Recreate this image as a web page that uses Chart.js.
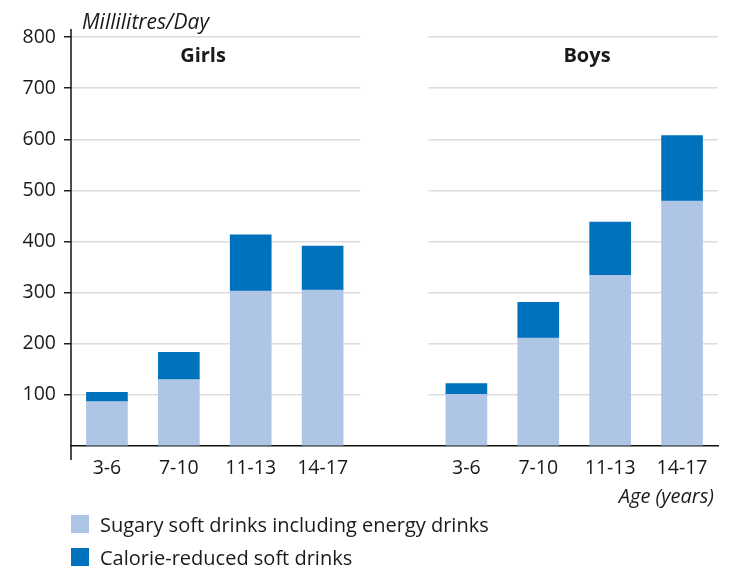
<!DOCTYPE html>
<html>
<head>
<meta charset="utf-8">
<script src="https://cdn.jsdelivr.net/npm/chart.js@4.4.0/dist/chart.umd.min.js"></script>
<style>
  body { margin: 0; background: #fff; font-family: 'Open Sans', sans-serif; }
  #wrap { position: relative; width: 734px; height: 568px; }
  .legend { position: absolute; left: 71px; font-size: 20px; color: #1a1a1a; display: flex; align-items: center; height: 18px; }
  .legend .box { width: 18px; height: 18px; display: inline-block; margin-right: 11px; }
</style>
</head>
<body>
<div id="wrap">
  <canvas id="chart" width="734" height="568"></canvas>
  <div class="legend" style="top:515px"><span class="box" style="background:#afc5e6"></span>Sugary soft drinks including energy drinks</div>
  <div class="legend" style="top:548px"><span class="box" style="background:#0071bc"></span>Calorie-reduced soft drinks</div>
</div>
<script>
// age groups, same for girls and boys
const ageGroups = ['3-6', '7-10', '11-13', '14-17'];

// millilitres per day
const girlsSugary = [87, 130, 303, 305];
const girlsReduced = [18, 53, 110, 86];
const boysSugary = [101, 211, 334, 479];
const boysReduced = [21, 70, 104, 128];

const yTicks = [100, 200, 300, 400, 500, 600, 700, 800];

// an empty category keeps the two groups apart
const labels = [...ageGroups, '', ...ageGroups];
const sugary = [...girlsSugary, null, ...boysSugary];
const reduced = [...girlsReduced, null, ...boysReduced];

const decor = {
    id: 'decor',
    beforeDatasetsDraw(chart) {
        // gridlines stop between the groups
        const { ctx, chartArea, scales: { x } } = chart;
        const mid = x.getPixelForValue(4);
        ctx.save();
        ctx.fillStyle = '#fff';
        ctx.fillRect(mid - 34, chartArea.top - 2, 68, chartArea.bottom - chartArea.top - 1);
        ctx.restore();
    },
    afterDraw(chart) {
        const { ctx, chartArea } = chart;
        ctx.save();
        // y axis line, a bit longer than the plot
        ctx.strokeStyle = '#111';
        ctx.lineWidth = 1.5;
        ctx.beginPath();
        ctx.moveTo(chartArea.left, chartArea.top - 8);
        ctx.lineTo(chartArea.left, chartArea.bottom + 14);
        ctx.stroke();

        ctx.fillStyle = '#1a1a1a';
        ctx.textBaseline = 'alphabetic';
        ctx.font = 'italic 21px "Open Sans"';
        ctx.textAlign = 'left';
        ctx.fillText('Millilitres/Day', 82, 29);
        ctx.font = 'italic 20px "Open Sans"';
        ctx.textAlign = 'right';
        ctx.fillText('Age (years)', 714, 503);

        ctx.font = 'bold 20px "Open Sans"';
        ctx.textAlign = 'center';
        ctx.fillText('Girls', 203, 62);
        ctx.fillText('Boys', 587, 62);
        ctx.restore();
    }
};

new Chart(document.getElementById('chart'), {
    type: 'bar',
    data: {
        labels: labels,
        datasets: [
            {
                label: 'Sugary soft drinks including energy drinks',
                data: sugary,
                backgroundColor: '#afc5e6',
                barThickness: 41
            },
            {
                label: 'Calorie-reduced soft drinks',
                data: reduced,
                backgroundColor: '#0071bc',
                barThickness: 41
            }
        ]
    },
    options: {
        responsive: false,
        animation: false,
        layout: { padding: { top: 37, right: 16, left: 0, bottom: 0 } },
        plugins: {
            legend: { display: false },
            tooltip: { enabled: false }
        },
        scales: {
            x: {
                stacked: true,
                grid: { display: false, drawTicks: false },
                border: { display: true, color: '#111', width: 1.5 },
                ticks: {
                    color: '#1a1a1a',
                    font: { family: 'Open Sans', size: 19.5 },
                    padding: 11,
                    maxRotation: 0,
                    autoSkip: false
                },
                afterFit(scale) { scale.height = 122; }
            },
            y: {
                stacked: true,
                min: 0,
                max: 800,
                afterBuildTicks(scale) {
                    scale.ticks = [0, ...yTicks].map(v => ({ value: v }));
                },
                grid: {
                    color: c => c.tick.value === 0 ? 'rgba(0,0,0,0)' : '#dcdcdc',
                    tickColor: c => c.tick.value === 0 ? 'rgba(0,0,0,0)' : '#222',
                    lineWidth: 1.5,
                    tickLength: 7
                },
                border: { display: false },
                ticks: {
                    color: '#1a1a1a',
                    font: { family: 'Open Sans', size: 19.5 },
                    padding: 8,
                    callback: v => v === 0 ? '' : v
                },
                afterFit(scale) { scale.width = 71; }
            }
        }
    },
    plugins: [decor]
});
</script>
</body>
</html>
